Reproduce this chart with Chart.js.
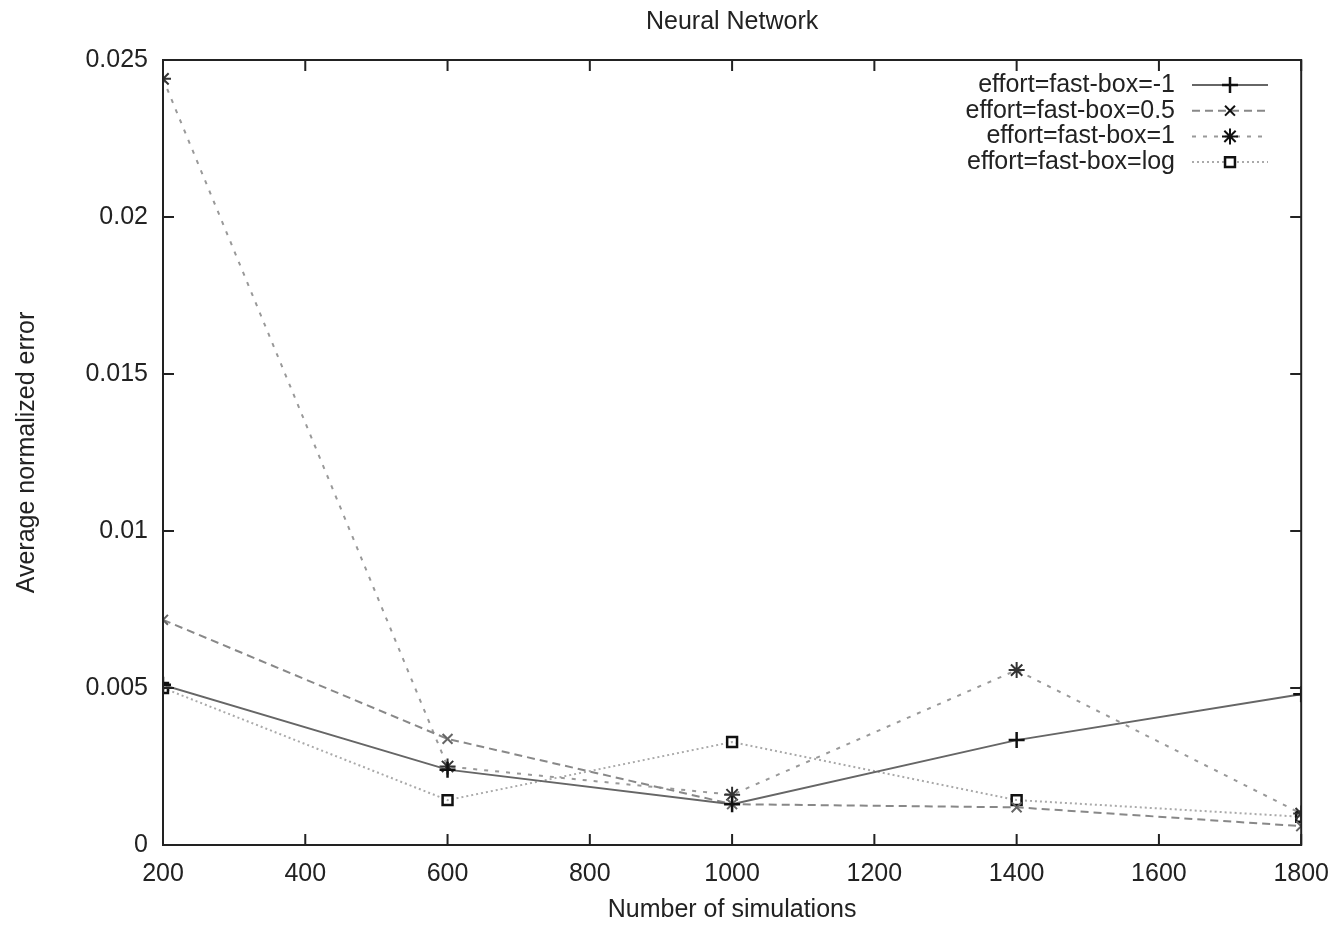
<!DOCTYPE html>
<html>
<head>
<meta charset="utf-8">
<script src="https://cdn.jsdelivr.net/npm/chart.js@4"></script>
<style>
  body { margin: 0; background: #fff; }
</style>
</head>
<body>
<canvas id="nnChart" width="1335" height="925"></canvas>
<script>
// Neural Network - average normalized error vs number of simulations

const simulations = [200, 600, 1000, 1400, 1800];
const seriesNames = ['effort=fast-box=-1', 'effort=fast-box=0.5', 'effort=fast-box=1', 'effort=fast-box=log'];
const boxMinus1 = [0.0051, 0.0024, 0.0013, 0.00334, 0.0048];
const boxHalf = [0.00717, 0.00338, 0.0013, 0.0012, 0.0006];
const boxOne = [0.0244, 0.0025, 0.0016, 0.00557, 0.001];
const boxLog = [0.005, 0.00143, 0.00328, 0.00143, 0.0009];
const xTicks = [200, 400, 600, 800, 1000, 1200, 1400, 1600, 1800];
const yTicks = [0, 0.005, 0.01, 0.015, 0.02, 0.025];

Chart.defaults.font.family = '"Liberation Sans", Arial, sans-serif';
Chart.defaults.font.size = 25;
Chart.defaults.color = '#222';

function pts(values) {
  return simulations.map((x, i) => ({ x: x, y: values[i] }));
}

// box around the plot with gnuplot style inward ticks
const frame = {
  id: 'frame',
  afterDatasetsDraw(chart) {
    const ctx = chart.ctx;
    const a = chart.chartArea;
    const xs = chart.scales.x, ys = chart.scales.y;
    ctx.save();
    ctx.strokeStyle = '#222';
    ctx.lineWidth = 2;
    ctx.strokeRect(a.left, a.top, a.right - a.left, a.bottom - a.top);
    ctx.beginPath();
    xTicks.forEach(v => {
      const px = xs.getPixelForValue(v);
      ctx.moveTo(px, a.bottom); ctx.lineTo(px, a.bottom - 11);
      ctx.moveTo(px, a.top); ctx.lineTo(px, a.top + 11);
    });
    yTicks.forEach(v => {
      const py = ys.getPixelForValue(v);
      ctx.moveTo(a.left, py); ctx.lineTo(a.left + 11, py);
      ctx.moveTo(a.right, py); ctx.lineTo(a.right - 11, py);
    });
    ctx.stroke();
    ctx.restore();
  }
};

// legend inside top right, labels right aligned, sample line with marker
const keyBox = {
  id: 'keyBox',
  afterDraw(chart) {
    const ctx = chart.ctx;
    const textRight = 1175, lineL = 1192, lineR = 1268;
    ctx.save();
    ctx.font = '25px "Liberation Sans", Arial, sans-serif';
    ctx.textAlign = 'right';
    ctx.textBaseline = 'middle';
    chart.data.datasets.forEach((ds, i) => {
      const y = 85 + i * 25.7;
      ctx.fillStyle = '#222';
      ctx.fillText(ds.label, textRight, y);
      ctx.strokeStyle = ds.borderColor;
      ctx.lineWidth = ds.borderWidth;
      ctx.setLineDash(ds.borderDash || []);
      ctx.beginPath();
      ctx.moveTo(lineL, y); ctx.lineTo(lineR, y);
      ctx.stroke();
      ctx.setLineDash([]);
      ctx.fillStyle = '#fff';
      ctx.strokeStyle = '#111';
      ctx.lineWidth = ds.pointBorderWidth;
      Chart.helpers.drawPoint(ctx, {
        pointStyle: ds.pointStyle, radius: ds.pointRadius, rotation: 0,
        borderWidth: ds.pointBorderWidth
      }, (lineL + lineR) / 2, y);
    });
    ctx.restore();
  }
};

new Chart(document.getElementById('nnChart'), {
  type: 'line',
  data: {
    datasets: [{
      label: seriesNames[0],
      data: pts(boxMinus1),
      borderColor: '#666',
      borderWidth: 2,
      pointStyle: 'cross',
      pointRadius: 8,
      pointBorderColor: '#111',
      pointBorderWidth: 2.5
    }, {
      label: seriesNames[1],
      data: pts(boxHalf),
      borderColor: '#888',
      borderWidth: 2,
      borderDash: [8, 5],
      pointStyle: 'crossRot',
      pointRadius: 7,
      pointBorderColor: '#666',
      pointBorderWidth: 2
    }, {
      label: seriesNames[2],
      data: pts(boxOne),
      borderColor: '#999',
      borderWidth: 2,
      borderDash: [4, 7],
      pointStyle: 'star',
      pointRadius: 8,
      pointBorderColor: '#333',
      pointBorderWidth: 2
    }, {
      label: seriesNames[3],
      data: pts(boxLog),
      borderColor: '#aaa',
      borderWidth: 2,
      borderDash: [2, 3],
      pointStyle: 'rect',
      pointRadius: 7,
      pointBorderColor: '#111',
      pointBackgroundColor: 'rgba(255,255,255,0)',
      pointBorderWidth: 2.5
    }]
  },
  options: {
    responsive: false,
    animation: false,
    layout: { padding: { left: 0, right: 23, top: 0, bottom: 0 } },
    scales: {
      x: {
        type: 'linear',
        min: 200,
        max: 1800,
        afterFit: s => { s.height = 80; },
        afterBuildTicks: s => { s.ticks = xTicks.map(v => ({ value: v })); },
        ticks: { padding: 6, maxRotation: 0, color: '#222', callback: v => String(v) },
        grid: { display: false },
        border: { display: false },
        title: { display: true, text: 'Number of simulations', padding: { top: 0, bottom: 0 } }
      },
      y: {
        min: 0,
        max: 0.025,
        afterFit: s => { s.width = 163; },
        afterBuildTicks: s => { s.ticks = yTicks.map(v => ({ value: v })); },
        ticks: {
          padding: 7,
          color: '#222',
          callback: v => String(Number(v.toFixed(3)))
        },
        grid: { display: false },
        border: { display: false },
        title: { display: true, text: 'Average normalized error', padding: { top: 12, bottom: 0 } }
      }
    },
    plugins: {
      legend: { display: false },
      tooltip: { enabled: false },
      title: {
        display: true,
        fullSize: false,
        text: 'Neural Network',
        font: { size: 25, weight: 'normal' },
        color: '#222',
        padding: { top: 7, bottom: 23 }
      }
    }
  },
  plugins: [frame, keyBox]
});
</script>
</body>
</html>
